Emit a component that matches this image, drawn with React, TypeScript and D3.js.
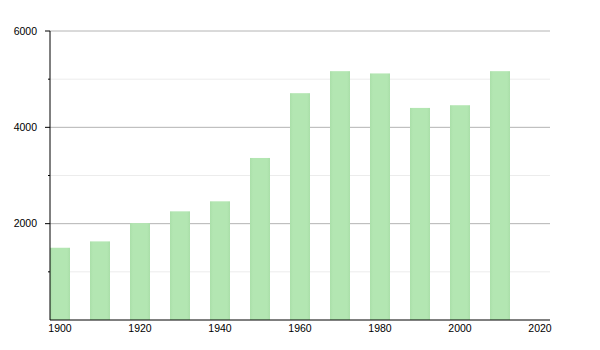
import React from "react";
import * as d3 from "d3";

const years = [1900, 1910, 1920, 1930, 1940, 1950, 1960, 1970, 1980, 1990, 2000, 2010];
const population = [1500, 1632, 2012, 2256, 2464, 3364, 4709, 5166, 5119, 4403, 4459, 5166];
const yMajorTicks = [2000, 4000, 6000];
const yMinorTicks = [1000, 3000, 5000];
const xTicks = [1900, 1920, 1940, 1960, 1980, 2000, 2020];

export default function App() {
  const W = 600, H = 350;
  const left = 50, right = 550, top = 31, bottom = 320;
  const x = d3.scaleLinear().domain([1900, 2025]).range([left, right]);
  const y = d3.scaleLinear().domain([0, 6000]).range([bottom, top]);
  const barW = x(1905) - x(1900);
  const font = "'Liberation Sans', Arial, sans-serif";

  return (
    <svg width={W} height={H} style={{ position: "absolute", left: 0, top: 0, background: "#fff" }}>
      <defs>
        <linearGradient id="barGrad" x1="0" x2="1" y1="0" y2="0">
          <stop offset="0" stopColor="#aadfa9" />
          <stop offset="0.15" stopColor="#b3e6b2" />
          <stop offset="0.85" stopColor="#b3e6b2" />
          <stop offset="1" stopColor="#aadfa9" />
        </linearGradient>
      </defs>
      {yMinorTicks.map((t) => (
        <line key={"mn" + t} x1={left} x2={right} y1={y(t)} y2={y(t)} stroke="#ececec" strokeWidth={1} />
      ))}
      {yMajorTicks.map((t) => (
        <line key={"mj" + t} x1={left} x2={right} y1={y(t)} y2={y(t)} stroke="#b4b4b4" strokeWidth={1} />
      ))}
      {years.map((yr, i) => (
        <rect
          key={yr}
          x={x(yr)}
          y={y(population[i])}
          width={barW}
          height={y(0) - y(population[i])}
          fill="url(#barGrad)"
        />
      ))}
      <line x1={left} x2={left} y1={top} y2={bottom} stroke="#000" strokeWidth={1} />
      <line x1={left} x2={right} y1={bottom} y2={bottom} stroke="#000" strokeWidth={1} />
      {yMajorTicks.map((t) => (
        <g key={"yl" + t}>
          <line x1={left - 5} x2={left} y1={y(t)} y2={y(t)} stroke="#000" />
          <text x={37} y={y(t)} dy="0.35em" textAnchor="end" fontSize={10.5} fontFamily={font} fill="#000">
            {t}
          </text>
        </g>
      ))}
      {yMinorTicks.map((t) => (
        <line key={"ymt" + t} x1={left - 2} x2={left} y1={y(t)} y2={y(t)} stroke="#000" />
      ))}
      {xTicks.map((t) => (
        <text key={"xl" + t} x={x(t) + barW / 2} y={332} textAnchor="middle" fontSize={10.5} fontFamily={font} fill="#000">
          {t}
        </text>
      ))}
    </svg>
  );
}
